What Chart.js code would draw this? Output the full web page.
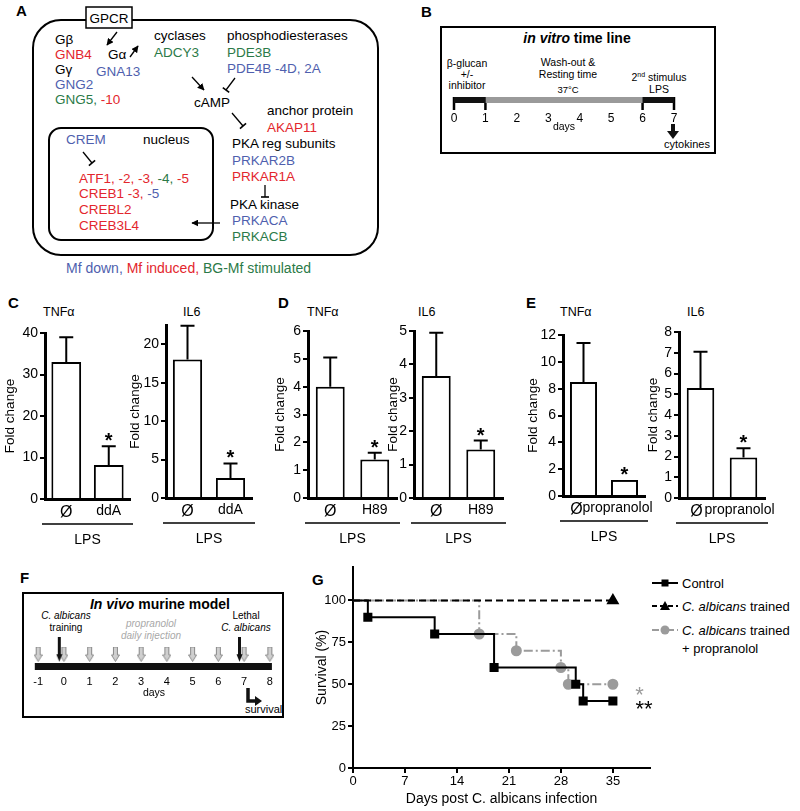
<!DOCTYPE html>
<html>
<head>
<meta charset="utf-8">
<title>cAMP / PKA pathway and trained immunity</title>
<script src="https://cdn.jsdelivr.net/npm/chart.js@4.4.1/dist/chart.umd.min.js"></script>
<style>
  html, body { margin: 0; padding: 0; background: #fff; }
  body { position: relative; width: 800px; height: 811px; overflow: hidden; font-family: "Liberation Sans", Arial, sans-serif; }
  #art { position: absolute; left: 0; top: 0; font-family: "Liberation Sans", Arial, sans-serif; }
  canvas { position: absolute; }
</style>
</head>
<body>
<svg id="art" width="800" height="811" xmlns="http://www.w3.org/2000/svg"></svg>
<script>
// ---- data ----
var cytokineNames = ['TNFα', 'IL6'];
var stimulus = 'LPS';

var ddaLabels = ['Ø', 'ddA'];
var h89Labels = ['Ø', 'H89'];
var propLabels = ['Ø', 'propranolol'];

var ddaTnfMean = [33, 8.2];
var ddaTnfErr = [6, 4.5];
var ddaIl6Mean = [18, 2.6];
var ddaIl6Err = [4.4, 1.9];
var h89TnfMean = [4, 1.38];
var h89TnfErr = [1.05, 0.25];
var h89Il6Mean = [3.65, 1.45];
var h89Il6Err = [1.3, 0.27];
var propTnfMean = [8.5, 1.2];
var propTnfErr = [2.9, 0];
var propIl6Mean = [5.3, 1.95];
var propIl6Err = [1.75, 0.45];

var ddaTnfTicks = [0, 10, 20, 30, 40];
var ddaIl6Ticks = [0, 5, 10, 15, 20];
var h89TnfTicks = [0, 1, 2, 3, 4, 5, 6];
var h89Il6Ticks = [0, 1, 2, 3, 4, 5];
var propTnfTicks = [0, 2, 4, 6, 8, 10, 12];
var propIl6Ticks = [0, 1, 2, 3, 4, 5, 6, 7, 8];
var foldAxisMax = [40, 22.5, 6, 5, 12, 8];

var vitroDays = [0, 1, 2, 3, 4, 5, 6, 7];
var vitroPhaseStart = [0, 1, 6];
var vitroPhaseEnd = [1, 6, 7];
var vitroMarkDays = [0, 1, 6, 7];

var vivoDays = [-1, 0, 1, 2, 3, 4, 5, 6, 7, 8];
var injectionDays = [-1, 0, 1, 2, 3, 4, 5, 6, 7, 8];
var challengeDays = [0, 7];

var controlDays = [0, 2, 11, 19, 30, 31, 35];
var controlSurvival = [100, 90, 80, 60, 50, 40, 40];
var trainedDays = [0, 35];
var trainedSurvival = [100, 100];
var propDays = [0, 17, 22, 28, 29, 35];
var propSurvival = [100, 80, 70, 60, 50, 50];
var survivalXTicks = [0, 7, 14, 21, 28, 35];
var survivalYTicks = [0, 25, 50, 75, 100];
var sigText = ['*', '**'];
var sigDay = [38.6, 39.2];
var sigSurvival = [47, 39];

Chart.defaults.font.family = '"Liberation Sans", Arial, sans-serif';
Chart.defaults.color = '#000';

// ---- svg helpers for the diagrams ----
var NS = 'http://www.w3.org/2000/svg';
var art = document.getElementById('art');
var RED = '#e3262d', BLUE = '#4f5fae', GREEN = '#2b7a48', GREY = '#9b9b9b';
var FS = 13.5;

function add(tag, attrs, parent) {
    var n = document.createElementNS(NS, tag);
    for (var k in attrs) n.setAttribute(k, attrs[k]);
    (parent || art).appendChild(n);
    return n;
}

function label(x, y, parts, size, anchor, weight, fill) {
    var t = add('text', { x: x, y: y, 'font-size': size, 'text-anchor': anchor || 'start', fill: fill || '#000' });
    if (weight) t.setAttribute('font-weight', weight);
    if (typeof parts === 'string') parts = [[parts]];
    parts.forEach(function (p) {
        var s = add('tspan', p[3] || {}, t);
        s.textContent = p[0];
        if (p[1]) s.setAttribute('fill', p[1]);
        if (p[2]) s.setAttribute('font-style', p[2]);
    });
    return t;
}

function seg(x1, y1, x2, y2, w, color) {
    return add('line', { x1: x1, y1: y1, x2: x2, y2: y2, stroke: color || '#000', 'stroke-width': w || 1.3 });
}

var defs = add('defs', {});
var mk = add('marker', { id: 'ah', viewBox: '0 0 10 10', refX: 9, refY: 5, markerWidth: 7, markerHeight: 7, orient: 'auto', markerUnits: 'userSpaceOnUse' }, defs);
add('path', { d: 'M0,0 L10,5 L0,10 z', fill: '#000' }, mk);

function arrow(x1, y1, x2, y2) {
    seg(x1, y1, x2, y2, 1.3).setAttribute('marker-end', 'url(#ah)');
}

function inhib(x1, y1, x2, y2) {
    seg(x1, y1, x2, y2, 1.3);
    var dx = x2 - x1, dy = y2 - y1, L = Math.sqrt(dx * dx + dy * dy);
    var px = -dy / L * 4, py = dx / L * 4;
    seg(x2 + px, y2 + py, x2 - px, y2 - py, 1.6);
}

// ---- panel A: pathway ----
label(16, 16, 'A', 15, 'start', 'bold');
add('rect', { x: 33, y: 20, width: 345, height: 235, rx: 28, fill: 'none', stroke: '#000', 'stroke-width': 2 });
add('rect', { x: 86, y: 7, width: 46, height: 21, fill: '#fff', stroke: '#000', 'stroke-width': 1.5 });
label(109, 23, 'GPCR', 13.5, 'middle');
arrow(117, 32, 107, 45);
label(55, 44, 'Gβ', FS);
label(55, 59, [['GNB4', RED]], FS);
label(55, 74, 'Gγ', FS);
label(55, 89, [['GNG2', BLUE]], FS);
label(55, 104, [['GNG5, ', GREEN], ['-10', RED]], FS);
label(108, 59, 'Gα', FS);
arrow(130, 57, 138, 46);
label(96, 76, [['GNA13', BLUE]], FS);
label(154, 40, 'cyclases', FS);
label(154, 57, [['ADCY3', GREEN]], FS);
label(227, 40, 'phosphodiesterases', FS);
label(227, 57, [['PDE3B', GREEN]], FS);
label(227, 73, [['PDE4B -4D, 2A', BLUE]], FS);
arrow(192, 77, 204, 90);
inhib(235, 78, 226, 90);
label(194, 107, 'cAMP', FS);
inhib(232, 113, 243, 126);
label(267, 115, 'anchor protein', FS);
label(267, 132, [['AKAP11', RED]], FS);
label(232, 148, 'PKA reg subunits', FS);
label(232, 165, [['PRKAR2B', BLUE]], FS);
label(232, 181, [['PRKAR1A', RED]], FS);
inhib(265, 185, 265, 197);
label(230, 209, 'PKA kinase', FS);
label(232, 225, [['PRKACA', BLUE]], FS);
label(232, 241, [['PRKACB', GREEN]], FS);
add('rect', { x: 49, y: 128, width: 164, height: 112, rx: 12, fill: 'none', stroke: '#000', 'stroke-width': 2 });
arrow(220, 223, 192, 223);
label(66, 144, [['CREM', BLUE]], FS);
label(143, 144, 'nucleus', FS);
inhib(83, 152, 92, 163);
label(79, 183, [['ATF1, -2, -3, ', RED], ['-4, ', GREEN], ['-5', RED]], FS);
label(79, 198, [['CREB1 -3, ', RED], ['-5', BLUE]], FS);
label(79, 214, [['CREBL2', RED]], FS);
label(79, 230, [['CREB3L4', RED]], FS);
label(66, 273, [['Mf down,  ', BLUE], ['Mf induced,  ', RED], ['BG-Mf stimulated', GREEN]], 14);

// ---- panel B: in vitro time line frame ----
label(421, 17, 'B', 15, 'start', 'bold');
add('rect', { x: 441, y: 27, width: 274, height: 126, fill: 'none', stroke: '#000', 'stroke-width': 2 });
label(577, 43, [['in vitro', null, 'italic'], [' time line']], 14, 'middle', 'bold');
label(467, 67, 'β-glucan', 10.5, 'middle');
label(467, 78, '+/-', 10.5, 'middle');
label(467, 89, 'inhibitor', 10.5, 'middle');
label(568, 66, 'Wash-out &', 10.5, 'middle');
label(568, 78, 'Resting time', 10.5, 'middle');
label(568, 93, '37°C', 9.5, 'middle');
label(659, 81, [['2'], ['nd', null, null, { dy: -4, 'font-size': 7 }], [' stimulus', null, null, { dy: 4 }]], 10.5, 'middle');
label(659, 93, stimulus, 10.5, 'middle');
add('rect', { x: 671, y: 124, width: 4, height: 8, fill: '#111' });
add('path', { d: 'M667,131 L679,131 L673,139 z', fill: '#111' });
label(687, 148, 'cytokines', 11, 'middle');

// ---- panels C, D, E: letters and titles ----
label(8, 308, 'C', 15, 'start', 'bold');
label(278, 308, 'D', 15, 'start', 'bold');
label(526, 308, 'E', 15, 'start', 'bold');
[[43, 183], [307, 418], [560, 687]].forEach(function (xs) {
    label(xs[0], 316, cytokineNames[0], 12.5);
    label(xs[1], 316, cytokineNames[1], 12.5);
});

// ---- panel F frame ----
label(20, 583, 'F', 15, 'start', 'bold');
add('rect', { x: 23, y: 593, width: 260, height: 124, fill: 'none', stroke: '#000', 'stroke-width': 2 });
label(160, 609, [['In vivo', null, 'italic'], [' murine model']], 14, 'middle', 'bold');
label(66, 619, [['C. albicans', null, 'italic']], 10, 'middle');
label(66, 631, 'training', 10, 'middle');
label(151, 627, [['propranolol', null, 'italic']], 10, 'middle', null, '#a8a8a8');
label(151, 639, [['daily injection', null, 'italic']], 10, 'middle', null, '#a8a8a8');
label(246, 619, 'Lethal', 10, 'middle');
label(246, 631, [['C. albicans', null, 'italic']], 10, 'middle');
add('path', { d: 'M248,688 V701 H256', fill: 'none', stroke: '#111', 'stroke-width': 3.5 });
add('path', { d: 'M255,696 L262,701 L255,706 z', fill: '#111' });
label(245, 713, 'survival', 11);

// ---- panel G letter + legend ----
label(312, 585, 'G', 15, 'start', 'bold');
seg(652, 583, 678, 583, 2);
add('rect', { x: 661.5, y: 579.5, width: 7, height: 7, fill: '#000' });
label(682, 588, 'Control', 13);
add('line', { x1: 652, y1: 606, x2: 678, y2: 606, stroke: '#000', 'stroke-width': 2, 'stroke-dasharray': '5,3' });
add('path', { d: 'M665,601 L670,610 L660,610 z', fill: '#000' });
label(682, 611, [['C. albicans', null, 'italic'], [' trained']], 13);
add('line', { x1: 652, y1: 630, x2: 678, y2: 630, stroke: GREY, 'stroke-width': 2, 'stroke-dasharray': '7,3,2,3' });
add('circle', { cx: 665, cy: 630, r: 4.5, fill: GREY });
label(682, 635, [['C. albicans', null, 'italic'], [' trained']], 13);
label(682, 653, '+ propranolol', 13);

// ---- chart helpers ----
function placeCanvas(left, top, w, h) {
    var c = document.createElement('canvas');
    c.width = w;
    c.height = h;
    c.style.left = left + 'px';
    c.style.top = top + 'px';
    document.body.appendChild(c);
    return c;
}

var errorBars = {
    id: 'errbars',
    afterDatasetsDraw: function (chart, args, opts) {
        var ctx = chart.ctx, y = chart.scales.y, area = chart.chartArea;
        var bars = chart.getDatasetMeta(0).data;
        var means = chart.data.datasets[0].data;
        ctx.save();
        ctx.strokeStyle = '#000';
        ctx.fillStyle = '#000';
        ctx.lineWidth = 2;
        bars.forEach(function (bar, i) {
            var top = y.getPixelForValue(means[i] + opts.errs[i]);
            if (opts.errs[i] > 0) {
                ctx.beginPath();
                ctx.moveTo(bar.x, bar.y);
                ctx.lineTo(bar.x, top);
                ctx.moveTo(bar.x - 7, top);
                ctx.lineTo(bar.x + 7, top);
                ctx.stroke();
            }
            if (i === opts.star) {
                ctx.font = 'bold 20px "Liberation Sans"';
                ctx.textAlign = 'center';
                ctx.textBaseline = 'alphabetic';
                ctx.fillText('*', bar.x, top + 1);
            }
        });
        var ly = area.bottom + 25;
        ctx.lineWidth = 1.5;
        ctx.beginPath();
        ctx.moveTo(area.left - 3, ly);
        ctx.lineTo(area.right + 3, ly);
        ctx.stroke();
        ctx.font = '14px "Liberation Sans"';
        ctx.textAlign = 'center';
        ctx.textBaseline = 'middle';
        ctx.fillText(opts.group, (area.left + area.right) / 2, area.bottom + 41);
        ctx.restore();
    }
};

function foldChart(box, labels, means, errs, ticks, yMax) {
    var padR = box.padR || 6;
    var cv = placeCanvas(box.left, box.top, box.rightX - box.left + padR, box.botY - box.top + 52);
    return new Chart(cv, {
        type: 'bar',
        data: {
            labels: labels,
            datasets: [{
                data: means,
                backgroundColor: '#fff',
                borderColor: '#000',
                borderWidth: 2,
                barPercentage: box.bar,
                categoryPercentage: 1
            }]
        },
        options: {
            responsive: false,
            animation: false,
            events: [],
            layout: { padding: { left: 0, top: box.topY - box.top, right: padR, bottom: 30 } },
            plugins: {
                legend: { display: false },
                tooltip: { enabled: false },
                errbars: { errs: errs, star: 1, group: stimulus }
            },
            scales: {
                x: {
                    z: 1,
                    border: { color: '#000', width: 3 },
                    grid: { display: false, drawTicks: false },
                    ticks: {
                        color: '#000', padding: 4, maxRotation: 0, minRotation: 0, autoSkip: false,
                        labelOffset: box.shift || 0,
                        font: function (c) { return { size: c.index === 0 ? 16 : 14 }; }
                    },
                    afterFit: function (s) { s.height = 22; }
                },
                y: {
                    z: 1,
                    min: 0,
                    max: yMax,
                    border: { color: '#000', width: 3 },
                    grid: { drawOnChartArea: false, color: '#000', lineWidth: 2, tickLength: 5 },
                    ticks: { color: '#000', padding: 2, font: { size: 14 } },
                    afterBuildTicks: function (s) { s.ticks = ticks.map(function (v) { return { value: v }; }); },
                    title: { display: true, text: 'Fold change', color: '#000', font: { size: 13.5 }, padding: { top: 2, bottom: 0 } },
                    afterFit: function (s) { s.width = box.axisX - box.left; }
                }
            }
        },
        plugins: [errorBars]
    });
}

// ---- panels C, D, E ----
foldChart({ left: 0, top: 318, axisX: 45, topY: 333, botY: 499, rightX: 130, bar: 0.7 }, ddaLabels, ddaTnfMean, ddaTnfErr, ddaTnfTicks, foldAxisMax[0]);
foldChart({ left: 125, top: 310, axisX: 166, topY: 325, botY: 498, rightX: 252, bar: 0.68 }, ddaLabels, ddaIl6Mean, ddaIl6Err, ddaIl6Ticks, foldAxisMax[1]);
foldChart({ left: 270, top: 316, axisX: 308, topY: 331, botY: 498, rightX: 397, bar: 0.65 }, h89Labels, h89TnfMean, h89TnfErr, h89TnfTicks, foldAxisMax[2]);
foldChart({ left: 383, top: 316, axisX: 414, topY: 331, botY: 498, rightX: 503, bar: 0.65 }, h89Labels, h89Il6Mean, h89Il6Err, h89Il6Ticks, foldAxisMax[3]);
foldChart({ left: 523, top: 320, axisX: 563, topY: 335, botY: 496, rightX: 645, bar: 0.66, shift: -7, padR: 26 }, propLabels, propTnfMean, propTnfErr, propTnfTicks, foldAxisMax[4]);
foldChart({ left: 643, top: 317, axisX: 679, topY: 332, botY: 498, rightX: 765, bar: 0.64, shift: -4, padR: 26 }, propLabels, propIl6Mean, propIl6Err, propIl6Ticks, foldAxisMax[5]);

// ---- panel B: time line axis ----
var vitroSets = [];
vitroPhaseStart.forEach(function (s, i) {
    vitroSets.push({
        data: [{ x: s, y: 0 }, { x: vitroPhaseEnd[i], y: 0 }],
        borderColor: i === 1 ? '#9a9a9a' : '#111',
        borderWidth: 6, pointRadius: 0, borderCapStyle: 'butt', clip: false
    });
});
vitroMarkDays.forEach(function (d) {
    vitroSets.push({
        data: [{ x: d, y: 3 }, { x: d, y: -10 }],
        borderColor: '#000', borderWidth: 2.5, pointRadius: 0, clip: false
    });
});
new Chart(placeCanvas(440, 88, 260, 46), {
    type: 'line',
    data: { datasets: vitroSets },
    options: {
        responsive: false, animation: false, events: [],
        layout: { padding: { left: 14, right: 26, top: 6, bottom: 0 } },
        plugins: { legend: { display: false }, tooltip: { enabled: false } },
        scales: {
            x: {
                type: 'linear', min: 0, max: 7,
                border: { display: false },
                grid: { display: false, drawTicks: false },
                afterBuildTicks: function (s) { s.ticks = vitroDays.map(function (v) { return { value: v }; }); },
                ticks: { color: '#000', font: { size: 12 }, padding: 1 },
                title: { display: true, text: 'days', color: '#000', font: { size: 10.5 }, padding: { top: 0, bottom: 1 } },
                afterFit: function (s) { s.height = 24; }
            },
            y: { display: false, min: -10, max: 6 }
        }
    }
});

// ---- panel F: time line axis with injection arrows ----
function arrowImage(w, h, shaft, headY, fill, stroke) {
    var c = document.createElement('canvas');
    c.width = w;
    c.height = h;
    var g = c.getContext('2d');
    g.beginPath();
    g.moveTo((w - shaft) / 2, 0);
    g.lineTo((w + shaft) / 2, 0);
    g.lineTo((w + shaft) / 2, headY);
    g.lineTo(w - 0.5, headY);
    g.lineTo(w / 2, h - 0.5);
    g.lineTo(0.5, headY);
    g.lineTo((w - shaft) / 2, headY);
    g.closePath();
    g.fillStyle = fill;
    g.fill();
    if (stroke) {
        g.strokeStyle = stroke;
        g.lineWidth = 1;
        g.stroke();
    }
    return c;
}
var greyArrow = arrowImage(9, 15, 4, 8, '#cfcfcf', '#8a8a8a');
var blackArrow = arrowImage(7, 25, 3, 17, '#111');

new Chart(placeCanvas(20, 626, 262, 74), {
    type: 'line',
    data: {
        datasets: [
            {
                data: challengeDays.map(function (d) { return { x: d - 0.18, y: 18 }; }),
                showLine: false, pointStyle: blackArrow, pointRadius: 6, clip: false
            },
            {
                data: injectionDays.map(function (d) { return { x: d, y: 13 }; }),
                showLine: false, pointStyle: greyArrow, pointRadius: 6, clip: false
            },
            {
                data: [{ x: vivoDays[0] - 0.13, y: 0 }, { x: vivoDays[vivoDays.length - 1] + 0.08, y: 0 }],
                borderColor: '#111', borderWidth: 7, pointRadius: 0, borderCapStyle: 'butt', clip: false
            }
        ]
    },
    options: {
        responsive: false, animation: false, events: [],
        layout: { padding: { left: 13, right: 4, top: 4, bottom: 0 } },
        plugins: { legend: { display: false }, tooltip: { enabled: false } },
        scales: {
            x: {
                type: 'linear', min: -1.2, max: 8.2,
                border: { display: false },
                grid: { display: false, drawTicks: false },
                afterBuildTicks: function (s) { s.ticks = vivoDays.map(function (v) { return { value: v }; }); },
                ticks: { color: '#000', font: { size: 11 }, padding: 3 },
                title: { display: true, text: 'days', color: '#000', font: { size: 10.5 }, padding: { top: 0, bottom: 1 } },
                afterFit: function (s) { s.height = 28; }
            },
            y: { display: false, min: -6, max: 36 }
        }
    }
});

// ---- panel G: survival ----
function points(xs, ys) {
    return xs.map(function (x, i) { return { x: x, y: ys[i] }; });
}

var sigMarks = {
    id: 'sigmarks',
    afterDatasetsDraw: function (chart) {
        var ctx = chart.ctx, sx = chart.scales.x, sy = chart.scales.y;
        ctx.save();
        ctx.font = '22px "Liberation Sans"';
        ctx.textAlign = 'center';
        ctx.textBaseline = 'alphabetic';
        sigText.forEach(function (t, i) {
            ctx.fillStyle = i === 0 ? GREY : '#000';
            ctx.fillText(t, sx.getPixelForValue(sigDay[i]), sy.getPixelForValue(sigSurvival[i]) + 13);
        });
        ctx.restore();
    }
};

new Chart(placeCanvas(300, 555, 360, 255), {
    type: 'line',
    data: {
        datasets: [
            {
                label: 'Control',
                data: points(controlDays, controlSurvival),
                stepped: true,
                borderColor: '#000', borderWidth: 2,
                pointStyle: 'rect',
                pointRadius: controlDays.map(function (d, i) { return i === 0 ? 0 : 5; }),
                pointBackgroundColor: '#000', pointBorderColor: '#000'
            },
            {
                label: 'C. albicans trained',
                data: points(trainedDays, trainedSurvival),
                borderColor: '#000', borderWidth: 2, borderDash: [7, 4],
                pointStyle: 'triangle',
                pointRadius: trainedDays.map(function (d, i) { return i === 0 ? 0 : 5.5; }),
                pointBackgroundColor: '#000', pointBorderColor: '#000'
            },
            {
                label: 'C. albicans trained + propranolol',
                data: points(propDays, propSurvival),
                stepped: true,
                borderColor: GREY, borderWidth: 2, borderDash: [9, 3, 2, 3],
                pointStyle: 'circle',
                pointRadius: propDays.map(function (d, i) { return i === 0 ? 0 : 4.5; }),
                pointBackgroundColor: GREY, pointBorderColor: GREY
            }
        ]
    },
    options: {
        responsive: false, animation: false, events: [],
        layout: { padding: { left: 0, top: 12, right: 10, bottom: 0 } },
        plugins: { legend: { display: false }, tooltip: { enabled: false } },
        scales: {
            x: {
                type: 'linear', min: 0, max: 40,
                border: { color: '#000', width: 2 },
                grid: { drawOnChartArea: false, color: '#000', lineWidth: 2, tickLength: 5 },
                afterBuildTicks: function (s) { s.ticks = survivalXTicks.map(function (v) { return { value: v }; }); },
                ticks: { color: '#000', font: { size: 13 }, padding: 1 },
                title: { display: true, text: 'Days post C. albicans infection', color: '#000', font: { size: 14 }, padding: { top: 0, bottom: 2 } },
                afterFit: function (s) { s.height = 42; }
            },
            y: {
                min: 0, max: 120,
                border: { color: '#000', width: 2 },
                grid: { drawOnChartArea: false, color: '#000', lineWidth: 2, tickLength: 5 },
                afterBuildTicks: function (s) { s.ticks = survivalYTicks.map(function (v) { return { value: v }; }); },
                ticks: { color: '#000', font: { size: 13 }, padding: 2 },
                title: { display: true, text: 'Survival (%)', color: '#000', font: { size: 14 }, padding: { top: 14, bottom: 0 } },
                afterFit: function (s) { s.width = 53; }
            }
        }
    },
    plugins: [sigMarks]
});
</script>
</body>
</html>
